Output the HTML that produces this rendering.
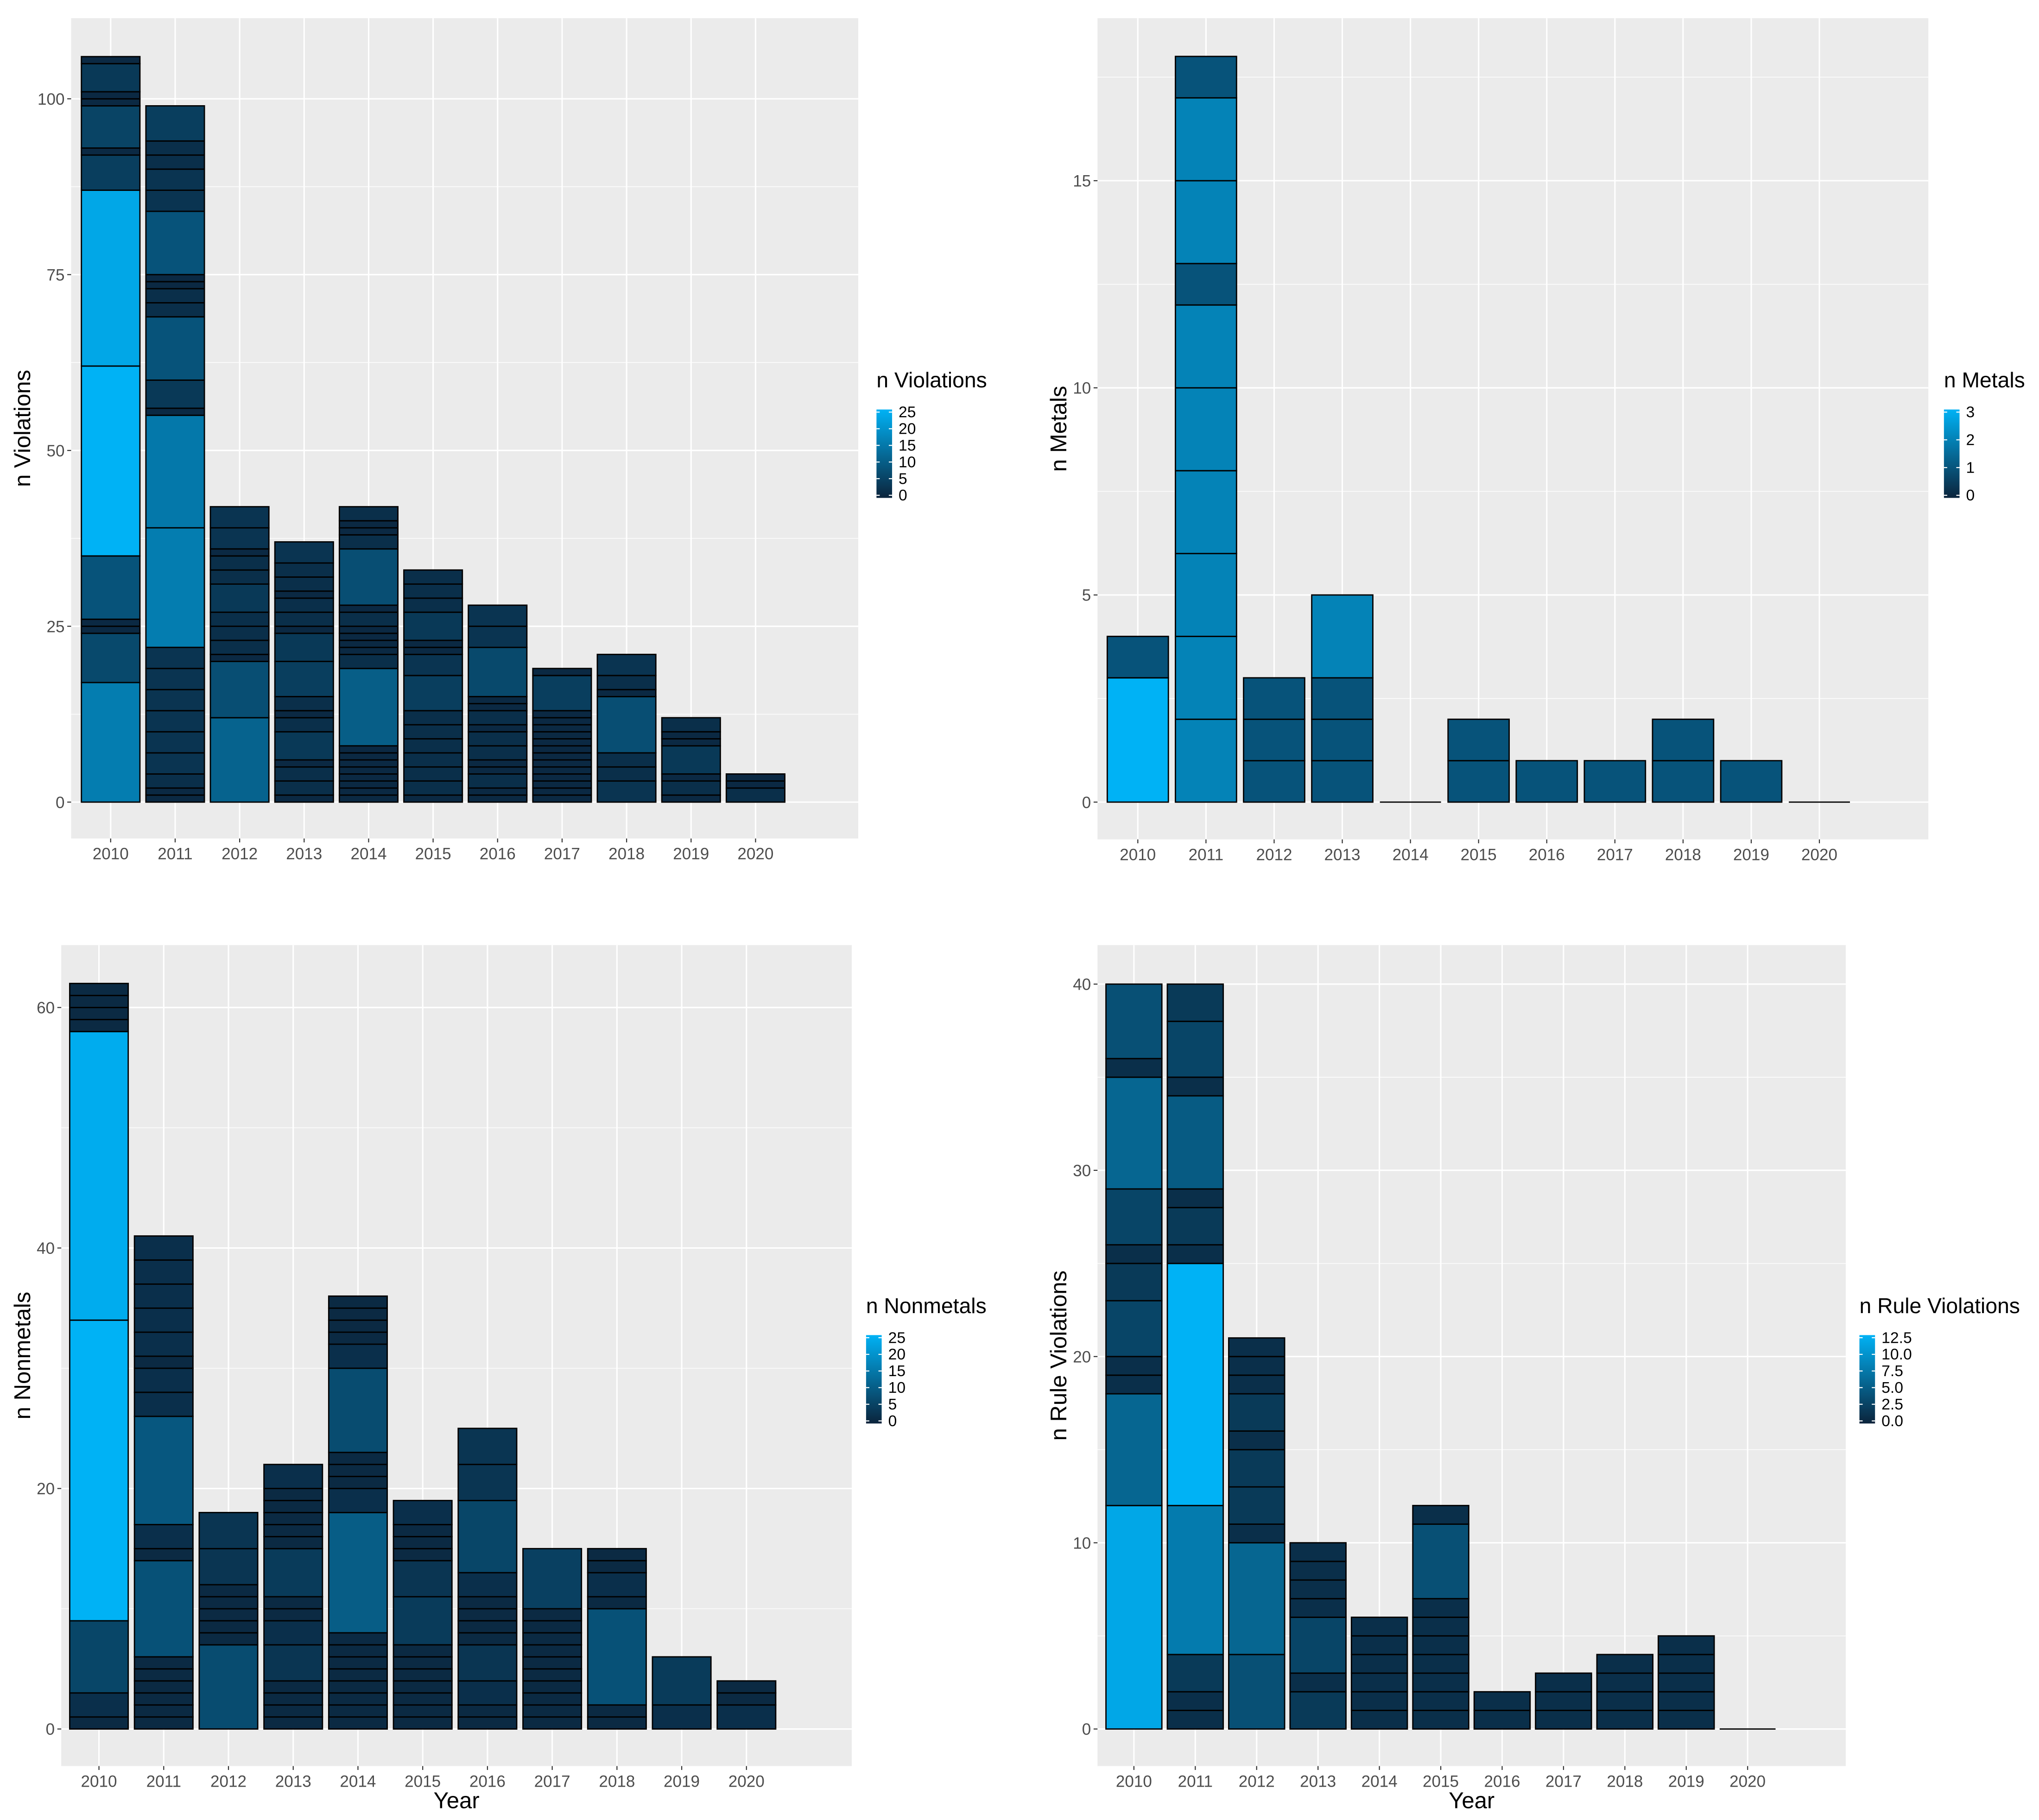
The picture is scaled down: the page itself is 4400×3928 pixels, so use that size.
<!DOCTYPE html>
<html><head><meta charset="utf-8"><style>
html,body{margin:0;padding:0;background:#fff;}
svg{display:block;font-family:"Liberation Sans",sans-serif;}
</style></head><body>
<svg id="chart" width="4400" height="3928" viewBox="0 0 1568 1400" xmlns="http://www.w3.org/2000/svg"></svg>
<script>
const years = ["2010","2011","2012","2013","2014","2015","2016","2017","2018","2019","2020"];
const violationsStacks = [
 [0,17,24,25,26,35,62,87,92,93,99,100,101,105,106],
 [0,1,2,4,7,10,13,16,19,22,39,55,56,60,69,71,73,74,75,84,87,90,92,94,99],
 [0,12,20,21,23,25,27,31,33,35,36,39,42],
 [0,1,3,5,6,10,12,13,15,20,24,25,27,29,30,32,34,37],
 [0,1,2,3,4,5,6,7,8,19,21,22,23,24,25,27,28,36,38,39,40,42],
 [0,1,3,5,7,9,11,13,18,21,22,23,27,29,31,33],
 [0,1,2,4,5,6,8,10,11,13,14,15,22,25,28],
 [0,1,2,3,4,5,6,7,8,9,10,11,12,13,18,19],
 [0,3,5,7,15,16,18,21],
 [0,1,3,4,8,9,10,12],
 [0,2,3,4]
];
const metalsStacks = [
 [0,3,4],[0,2,4,6,8,10,12,13,15,17,18],[0,1,2,3],[0,1,2,3,5],[0],
 [0,1,2],[0,1],[0,1],[0,1,2],[0,1],[0]
];
const nonmetalsStacks = [
 [0,1,3,9,34,58,59,60,61,62],
 [0,1,2,3,4,5,6,14,15,17,26,28,30,31,33,35,37,39,41],
 [0,7,8,9,10,11,12,15,18],
 [0,1,2,3,4,7,9,10,11,15,16,17,18,19,20,22],
 [0,1,2,3,4,5,6,7,8,18,20,21,22,23,30,32,33,34,35,36],
 [0,1,2,3,4,5,6,7,11,14,15,16,17,19],
 [0,1,2,4,7,8,9,10,11,13,19,22,25],
 [0,1,2,3,4,5,6,7,8,9,10,15],
 [0,1,2,10,11,13,14,15],
 [0,2,6],
 [0,2,3,4]
];
const ruleStacks = [
 [0,12,18,19,20,23,25,26,29,35,36,40],
 [0,1,2,4,12,25,26,28,29,34,35,38,40],
 [0,4,10,11,13,15,16,18,19,20,21],
 [0,2,3,6,7,8,9,10],
 [0,1,2,3,4,5,6],
 [0,1,2,3,4,5,6,7,11,12],
 [0,1,2],[0,1,2,3],[0,1,2,3,4],[0,1,2,3,4,5],[0]
];
const violationsTicks = [0,25,50,75,100];
const metalsTicks = [0,5,10,15];
const nonmetalsTicks = [0,20,40,60];
const ruleTicks = [0,10,20,30,40];
const violationsLegend = ["25","20","15","10","5","0"];
const metalsLegend = ["3","2","1","0"];
const nonmetalsLegend = ["25","20","15","10","5","0"];
const ruleLegend = ["12.5","10.0","7.5","5.0","2.5","0.0"];

const NS="http://www.w3.org/2000/svg";
const svg=document.getElementById('chart');
function mk(tag,attrs,parent,text){const e=document.createElementNS(NS,tag);for(const k in attrs)e.setAttribute(k,attrs[k]);if(text!==undefined)e.textContent=text;(parent||svg).appendChild(e);return e;}
function col(t){t=Math.max(0,Math.min(1,t));const a=[11,36,60],b=[0,178,245];
 return `rgb(${a.map((v,i)=>Math.round(v+(b[i]-v)*t)).join(',')})`;}

function panel(cfg){
 const g=mk('g',{});
 
 
 const {x0,x1,y0,y1,zeroY,topVal,topY,c0,step,bw,ymax}=cfg;
 const ys=v=>zeroY-(zeroY-topY)*v/topVal;
 const xs=i=>c0+i*step;
 const bg=mk('rect',{x:x0,y:y0,width:x1-x0,height:y1-y0,fill:'#EBEBEB'},g);
 
 
 const tstep=cfg.ticks[1]-cfg.ticks[0];
 for(let v=-tstep/2; ys(v)>y0; v+=tstep){const yy=ys(v); if(yy<y1) mk('line',{x1:x0,x2:x1,y1:yy,y2:yy,stroke:'#fff','stroke-width':0.5},g);}
 cfg.ticks.forEach(v=>{const yy=ys(v);mk('line',{x1:x0,x2:x1,y1:yy,y2:yy,stroke:'#fff','stroke-width':1.1},g);
  const t=mk('text',{x:x0-5,y:yy+4.5,'text-anchor':'end','font-size':12.5,fill:'#4d4d4d'},g,String(v));
  
  
  mk('line',{x1:x0-3,x2:x0,y1:yy,y2:yy,stroke:'#333','stroke-width':0.8},g);});
 years.forEach((yr,i)=>{const xx=xs(i);mk('line',{x1:xx,x2:xx,y1:y0,y2:y1,stroke:'#fff','stroke-width':1.1},g);
  mk('line',{x1:xx,x2:xx,y1:y1,y2:y1+3,stroke:'#333','stroke-width':0.8},g);
  const t=mk('text',{x:xx,y:y1+16,'text-anchor':'middle','font-size':12.5,fill:'#4d4d4d'},g,yr);
  
  });
 cfg.stacks.forEach((s,i)=>{const xx=xs(i)-bw/2;
  if(s.length===1){mk('line',{x1:xx,x2:xx+bw,y1:ys(0),y2:ys(0),stroke:'#000','stroke-width':1},g);return;}
  for(let k=1;k<s.length;k++){const a=s[k-1],b=s[k];
   const r=mk('rect',{x:xx,y:ys(b),width:bw,height:ys(a)-ys(b),fill:col((b-a)/ymax),stroke:'#000','stroke-width':1},g);
   
   }});
 const yt=mk('text',{x:0,y:0,'text-anchor':'middle','font-size':17.5,fill:'#000',transform:`translate(${cfg.ytx},${(y0+y1)/2}) rotate(-90)`},g,cfg.ytitle);
 
 
 if(cfg.xtitle){const xt=mk('text',{x:(x0+x1)/2,y:1391,'text-anchor':'middle','font-size':17.5,fill:'#000'},g,'Year');
  
  }
 const L=cfg.legend;
 const lt=mk('text',{x:L.x,y:L.y,'font-size':16.5,fill:'#000'},g,cfg.ltitle);
 
 
 const gid='grad'+cfg.name;
 const d=mk('defs',{},g);const lg=mk('linearGradient',{id:gid,x1:0,y1:1,x2:0,y2:0},d);
 mk('stop',{offset:0,'stop-color':col(0)},lg);mk('stop',{offset:1,'stop-color':col(1)},lg);
 const cb=mk('rect',{x:L.x,y:L.y+17,width:12,height:68,fill:`url(#${gid})`},g);
 
 
 const n=cfg.llabels.length;
 cfg.llabels.forEach((lab,k)=>{const yy=L.y+19+k*(64/(n-1));
  mk('line',{x1:L.x,x2:L.x+2.5,y1:yy,y2:yy,stroke:'#fff','stroke-width':0.8},g);
  mk('line',{x1:L.x+9.5,x2:L.x+12,y1:yy,y2:yy,stroke:'#fff','stroke-width':0.8},g);
  const t=mk('text',{x:L.x+17,y:yy+4,'font-size':12,fill:'#000'},g,lab);
  
  });
}
panel({name:'violations',x0:54.6,x1:660,y0:14,y1:645,zeroY:617,topVal:100,topY:76,c0:85,step:49.6,bw:45,ymax:27,
 ticks:violationsTicks,stacks:violationsStacks,ytitle:'n Violations',ytx:23,ltitle:'n Violations',legend:{x:674,y:298},llabels:violationsLegend});
panel({name:'metals',x0:844,x1:1483,y0:14,y1:645.7,zeroY:617,topVal:15,topY:139,c0:875,step:52.42,bw:47,ymax:3,
 ticks:metalsTicks,stacks:metalsStacks,ytitle:'n Metals',ytx:820,ltitle:'n Metals',legend:{x:1495,y:298},llabels:metalsLegend});
panel({name:'nonmetals',x0:47,x1:655,y0:727,y1:1358.5,zeroY:1330,topVal:60,topY:775,c0:76,step:49.8,bw:45,ymax:25,
 ticks:nonmetalsTicks,stacks:nonmetalsStacks,ytitle:'n Nonmetals',ytx:23,ltitle:'n Nonmetals',legend:{x:666,y:1010},llabels:nonmetalsLegend,xtitle:true});
panel({name:'rule-violations',x0:844,x1:1419.5,y0:727,y1:1358.5,zeroY:1330,topVal:40,topY:757,c0:872,step:47.2,bw:43,ymax:13,
 ticks:ruleTicks,stacks:ruleStacks,ytitle:'n Rule Violations',ytx:820,ltitle:'n Rule Violations',legend:{x:1430,y:1010},llabels:ruleLegend,xtitle:true});
</script>
</body></html>
